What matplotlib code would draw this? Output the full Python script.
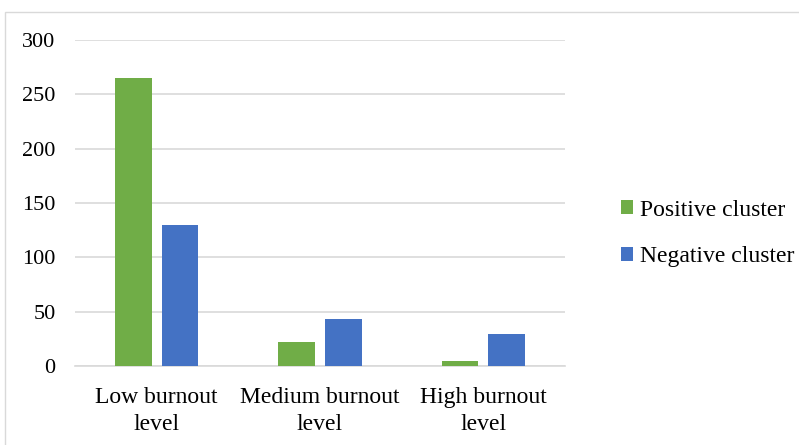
import numpy as np
import matplotlib.pyplot as plt
from matplotlib.patches import Rectangle

plt.rcParams['font.family'] = ['Liberation Serif', 'DejaVu Serif']

categories = ['Low burnout\nlevel', 'Medium burnout\nlevel', 'High burnout\nlevel']
positive = [265, 22, 5]
negative = [130, 43, 29]
yticks = [0, 50, 100, 150, 200, 250, 300]

fig = plt.figure(figsize=(7.99, 4.45), dpi=100)
# light frame round the whole chart
fig.patches.append(Rectangle((5 / 799, -0.01), 1.0, 1 - 12 / 445 + 0.01,
                             transform=fig.transFigure, fill=False,
                             edgecolor='#D9D9D9', linewidth=1))

ax = fig.add_axes([75 / 799, 1 - 366 / 445, 490 / 799, 326 / 445])
x = np.arange(len(categories))
w = 0.225
ax.bar(x - 0.1425, positive, w, color='#70AD47', label='Positive cluster', zorder=3)
ax.bar(x + 0.1425, negative, w, color='#4472C4', label='Negative cluster', zorder=3)

ax.set_xlim(-0.5, 2.5)
ax.set_ylim(0, 300)
ax.set_yticks(yticks)
ax.yaxis.grid(True, color='#D9D9D9', linewidth=1.2, zorder=0)
for s in ['top', 'right', 'left']:
    ax.spines[s].set_visible(False)
ax.spines['bottom'].set_color('#D9D9D9')
ax.spines['bottom'].set_linewidth(1.2)
ax.tick_params(axis='both', length=0)
ax.tick_params(axis='y', pad=14, labelsize=16)
ax.tick_params(axis='x', pad=15, labelsize=17)
ax.set_xticks(x)
ax.set_xticklabels(categories, linespacing=1.4)

fig.legend(loc='center left', bbox_to_anchor=(621 / 799, 1 - 233.5 / 445),
           frameon=False, fontsize=17, handlelength=0.5, handleheight=0.5,
           handletextpad=0.3, labelspacing=1.1, borderpad=0, borderaxespad=0)

plt.savefig('out.png', dpi=100)
